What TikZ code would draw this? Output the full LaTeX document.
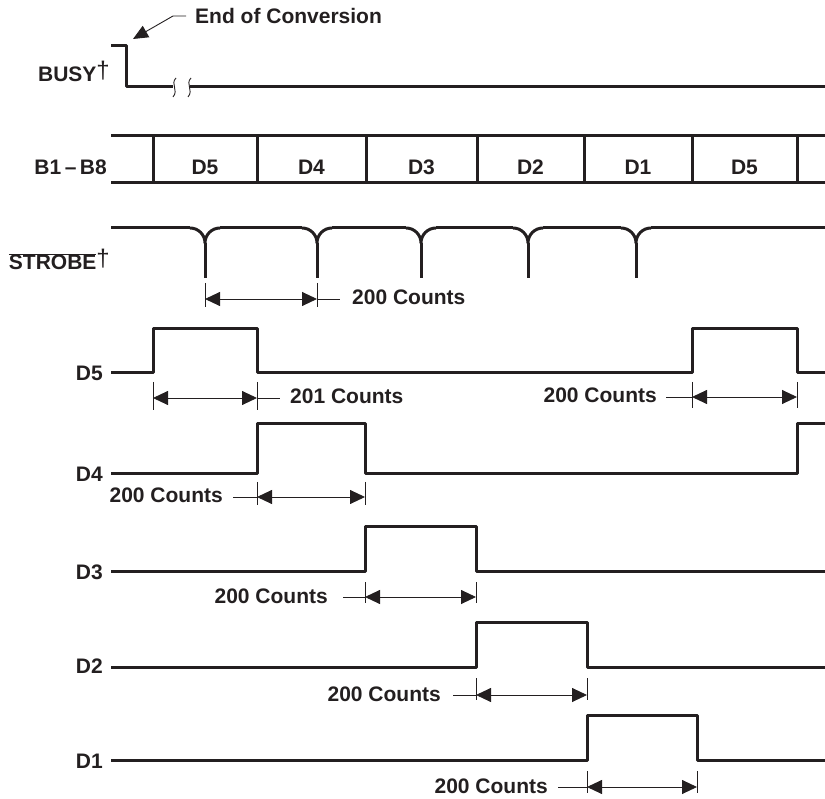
\documentclass[tikz,border=0pt]{standalone}
\usepackage{fontspec}
\setmainfont{Liberation Sans}
\usetikzlibrary{arrows.meta}
\definecolor{ink}{RGB}{35,31,32}
\newcommand{\mydag}{\raisebox{3pt}{\fontsize{24}{26}\selectfont\mdseries †}}
\begin{document}
\begin{tikzpicture}[x=1pt,y=-1pt,
  sig/.style={line width=3pt, line join=round, ink},
  thinl/.style={line width=0.9pt, ink},
  dimarrow/.style={line width=0.9pt, ink, {Triangle[length=15pt,width=14pt]}-{Triangle[length=15pt,width=14pt]}},
  lbl/.style={font=\fontsize{21}{25}\selectfont\bfseries, text=ink, inner sep=0pt},
  ]
\useasboundingbox (0,0) rectangle (825,799);

% ---------------- BUSY ----------------
\node[lbl, anchor=base east] (busy) at (110,82) {BUSY\mydag};
\draw[sig] (111,46) -- (126,46) -- (126,87) -- (173,87);
\draw[sig] (190,87) -- (825,87);
\draw[thinl] (176,78) .. controls (170,84) and (179,90) .. (173,97);
\draw[thinl] (191,78) .. controls (185,84) and (194,90) .. (188,97);
\node[lbl, anchor=base west] (eoc) at (195,24) {End of Conversion};
\coordinate (eocA) at (186,16);
\coordinate (eocB) at (173,16);
\coordinate (eocTip) at (133,39);
\draw[thinl, -{Triangle[length=15pt,width=13pt]}] (eocA) -- (eocB) -- (eocTip);

% ---------------- B1-B8 bus ----------------
\node[lbl, anchor=base east] (bus) at (107,175) {B1\,–\,B8};
\draw[sig] (111,136) -- (825,136);
\draw[sig] (111,183) -- (825,183);
\foreach \x in {153,257,366,477,584,692,797}
  \draw[sig] (\x,136) -- (\x,183);
\node[lbl, anchor=base] (b1) at (205,175) {D5};
\node[lbl, anchor=base] (b2) at (311.5,175) {D4};
\node[lbl, anchor=base] (b3) at (421.5,175) {D3};
\node[lbl, anchor=base] (b4) at (530.5,175) {D2};
\node[lbl, anchor=base] (b5) at (638,175) {D1};
\node[lbl, anchor=base] (b6) at (744.5,175) {D5};

% ---------------- STROBE ----------------
\node[lbl, anchor=base east] (strobe) at (110,270) {$\overline{\hbox{STROBE}}$\mydag};
\draw[sig] (111,228) -- (190,228);
\draw[sig] (220,228) -- (302,228);
\draw[sig] (332,228) -- (406,228);
\draw[sig] (436,228) -- (513,228);
\draw[sig] (543,228) -- (621,228);
\draw[sig] (651,228) -- (825,228);
\foreach \x in {205,317,421,528,636} {
  \draw[sig] (\x-15,228) .. controls (\x-6.7,228) and (\x,234.7) .. (\x,243)
             .. controls (\x,234.7) and (\x+6.7,228) .. (\x+15,228);
  \draw[sig] (\x,243) -- (\x,278);
}
\coordinate (sA) at (205,299);
\coordinate (sB) at (317,299);
\draw[thinl] (205,283) -- (205,307);
\draw[thinl] (317,283) -- (317,307);
\draw[dimarrow] (sA) -- (sB);
\node[lbl, anchor=base west] (c1) at (352,305) {200 Counts};
\draw[thinl] (sB) -- (340,299);

% ---------------- D5 ----------------
\node[lbl, anchor=base east] (d5) at (103,381) {D5};
\draw[sig] (111,373) -- (153,373) -- (153,329) -- (257,329) -- (257,373)
  -- (692,373) -- (692,329) -- (797,329) -- (797,373) -- (825,373);
\draw[thinl] (153,382) -- (153,410);
\draw[thinl] (257,382) -- (257,410);
\coordinate (d5A) at (153,398);
\coordinate (d5B) at (257,398);
\draw[dimarrow] (d5A) -- (d5B);
\node[lbl, anchor=base west] (c2) at (290,404) {201 Counts};
\draw[thinl] (d5B) -- (280,398);
\draw[thinl] (692,382) -- (692,408);
\draw[thinl] (797,382) -- (797,408);
\coordinate (d5C) at (692,397);
\coordinate (d5D) at (797,397);
\draw[dimarrow] (d5C) -- (d5D);
\node[lbl, anchor=base east] (c3) at (657,403) {200 Counts};
\draw[thinl] (666,397) -- (d5C);

% ---------------- D4 ----------------
\node[lbl, anchor=base east] (d4) at (103,482) {D4};
\draw[sig] (111,474) -- (257,474) -- (257,424) -- (365,424) -- (365,474)
  -- (797,474) -- (797,424) -- (825,424);
\draw[thinl] (257,482) -- (257,505);
\draw[thinl] (365,482) -- (365,505);
\coordinate (d4A) at (257,497);
\coordinate (d4B) at (365,497);
\draw[dimarrow] (d4A) -- (d4B);
\node[lbl, anchor=base east] (c4) at (223,503) {200 Counts};
\draw[thinl] (233,497) -- (d4A);

% ---------------- D3 ----------------
\node[lbl, anchor=base east] (d3) at (103,579) {D3};
\draw[sig] (111,571) -- (365,571) -- (365,526) -- (476,526) -- (476,571) -- (825,571);
\draw[thinl] (365,582) -- (365,603);
\draw[thinl] (476,582) -- (476,603);
\coordinate (d3A) at (365,597);
\coordinate (d3B) at (476,597);
\draw[dimarrow] (d3A) -- (d3B);
\node[lbl, anchor=base east] (c5) at (328,603) {200 Counts};
\draw[thinl] (343,597) -- (d3A);

% ---------------- D2 ----------------
\node[lbl, anchor=base east] (d2) at (103,673) {D2};
\draw[sig] (111,667) -- (476,667) -- (476,622) -- (587,622) -- (587,667) -- (825,667);
\draw[thinl] (476,678) -- (476,700);
\draw[thinl] (587,678) -- (587,700);
\coordinate (d2A) at (476,695);
\coordinate (d2B) at (587,695);
\draw[dimarrow] (d2A) -- (d2B);
\node[lbl, anchor=base east] (c6) at (441,701) {200 Counts};
\draw[thinl] (453,695) -- (d2A);

% ---------------- D1 ----------------
\node[lbl, anchor=base east] (d1) at (103,768) {D1};
\draw[sig] (111,760) -- (587,760) -- (587,715) -- (697,715) -- (697,760) -- (825,760);
\draw[thinl] (587,771) -- (587,793);
\draw[thinl] (697,771) -- (697,793);
\coordinate (d1A) at (587,787);
\coordinate (d1B) at (697,787);
\draw[dimarrow] (d1A) -- (d1B);
\node[lbl, anchor=base east] (c7) at (548,793) {200 Counts};
\draw[thinl] (558,787) -- (d1A);
\end{tikzpicture}
\end{document}
